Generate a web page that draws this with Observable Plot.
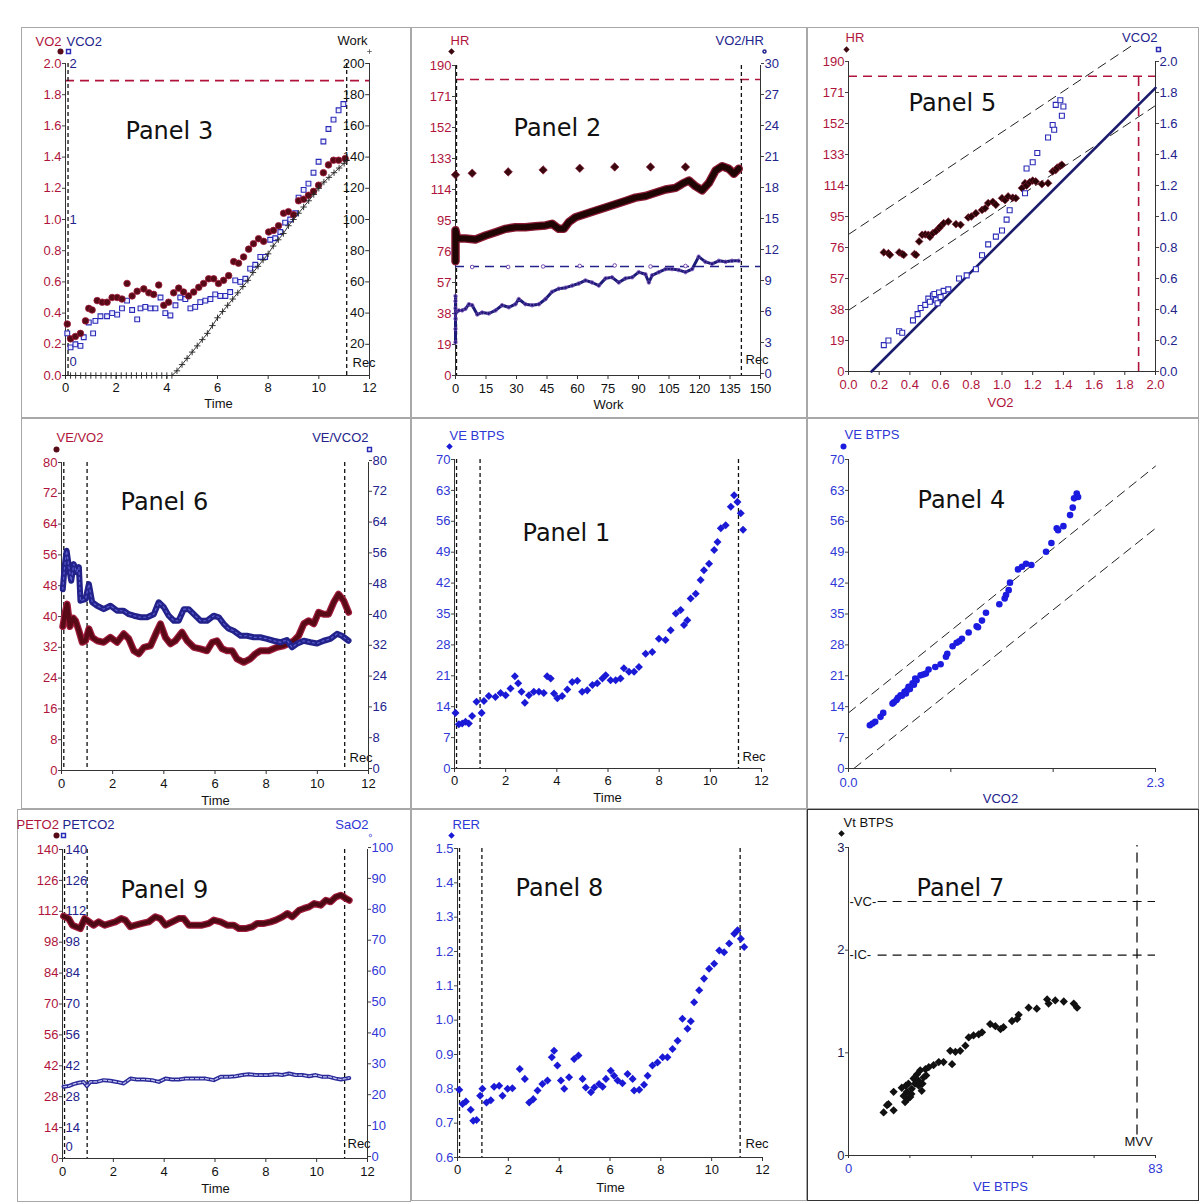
<!DOCTYPE html>
<html><head><meta charset="utf-8">
<script src="https://cdn.jsdelivr.net/npm/d3@7"></script>
<script src="https://cdn.jsdelivr.net/npm/@observablehq/plot@0.6"></script>
<style>
body{margin:0;background:#fff;}
#c{position:relative;width:1200px;height:1203px;overflow:hidden;background:#fff;}
.box{position:absolute;border:1px solid #a8a8a8;box-sizing:border-box;}
</style></head><body><div id="c"></div>
<script>
// ---------- Panel 3: VO2 / VCO2 / Work vs Time ----------
const p3VO2t=[0.07,0.2,0.39,0.59,0.79,0.92,1.05,1.25,1.45,1.64,1.84,2.04,2.23,2.43,2.63,2.83,3.09,3.29,3.48,3.68,3.88,4.07,4.27,4.47,4.66,4.86,5.06,5.26,5.45,5.65,5.85,6.04,6.24,6.44,6.64,6.83,7.03,7.23,7.42,7.62,7.82,8.02,8.21,8.41,8.61,8.80,9.0,9.2,9.4,9.59,9.79,9.99,10.18,10.38,10.58,10.78,11.04];
const p3VO2=[0.33,0.235,0.25,0.27,0.35,0.43,0.42,0.48,0.47,0.47,0.50,0.50,0.49,0.59,0.51,0.54,0.555,0.53,0.52,0.58,0.45,0.47,0.53,0.56,0.535,0.51,0.535,0.565,0.59,0.62,0.62,0.59,0.61,0.64,0.73,0.72,0.76,0.81,0.845,0.877,0.86,0.92,0.93,0.96,1.04,1.05,1.03,1.12,1.13,1.155,1.18,1.22,1.30,1.35,1.38,1.38,1.39];
const p3VCO2t=[0.07,0.2,0.39,0.59,0.72,0.92,1.09,1.18,1.38,1.64,1.84,2.04,2.23,2.43,2.63,2.83,2.96,3.15,3.35,3.55,3.75,3.94,4.14,4.34,4.53,4.73,4.93,5.12,5.32,5.52,5.72,5.91,6.11,6.31,6.50,6.70,6.90,7.10,7.29,7.49,7.69,7.88,8.08,8.28,8.48,8.67,8.87,9.07,9.20,9.40,9.59,9.79,9.99,10.18,10.38,10.58,10.78,10.97];
const p3VCO2=[0.27,0.18,0.2,0.19,0.245,0.34,0.27,0.35,0.38,0.38,0.40,0.39,0.43,0.48,0.42,0.36,0.43,0.44,0.43,0.43,0.50,0.40,0.385,0.45,0.50,0.49,0.43,0.44,0.47,0.48,0.49,0.52,0.51,0.51,0.535,0.61,0.60,0.62,0.685,0.71,0.76,0.76,0.87,0.88,0.92,0.98,1.0,1.04,1.14,1.19,1.23,1.30,1.37,1.50,1.58,1.64,1.70,1.74];
const p3WorkT=[0,0.2,0.4,0.6,0.8,1.0,1.2,1.4,1.6,1.8,2.0,2.2,2.4,2.6,2.8,3.0,3.2,3.4,3.6,3.8,4.0,4.2,4.4,4.6,4.8,5.0,5.2,5.4,5.6,5.8,6.0,6.2,6.4,6.6,6.8,7.0,7.2,7.4,7.6,7.8,8.0,8.2,8.4,8.6,8.8,9.0,9.2,9.4,9.6,9.8,10.0,10.2,10.4,10.6,10.8,11.0,11.1];
const p3Work=[0,0,0,0,0,0,0,0,0,0,0,0,0,0,0,0,0,0,0,0,0,0,3,7,11,15,19,23,27,32,37,41,45,49,53,57,61,66,70,74,78,83,87,91,96,100,104,108,112,116,120,124,127,130,133,136,138];
const p3VO2peak=[1.89], p3Markers=[0.1,11.1];

// ---------- Panel 2: HR and VO2/HR vs Work ----------
const p2HRw=[0,0,0,0,0,0,0,0.8,4.9,9.8,14.8,19.7,24.6,29.5,34.4,39.3,44.3,47.5,50.8,53.3,55.7,59,63.9,68.8,73.8,78.7,83.6,88.5,93.4,98.3,103.3,108.2,111.5,114.8,118,121.3,124.6,127.9,131.1,134.4,136.9,139.3];
const p2HR=[70,73,76,79,82,86,89,84,84,83.4,85.8,87.8,89.9,90.9,90.9,91.5,92,93,89.9,89.9,94,97,99,101,103,105,107,109,110,112,114,115,117.5,119.5,116,113.5,118,125.6,128.3,126.7,123.6,126.7];
const p2Dw=[0,8.2,25.9,43.1,61.1,78.3,95.9,113.1];
const p2Dhr=[123,124,124.8,126,127,127.8,127.8,127.8];
const p2Ow=[0,0,0,0,0,0,0,1.6,3.3,4.9,6.6,8.2,10.7,13.1,16.4,19.7,22.9,26.2,29.5,31.1,34.4,37.7,41,44.3,47.5,50.8,54.1,57.4,60.6,63.9,67.2,70.5,73.8,77,80.3,83.6,86.9,90.1,93.4,95.1,96.7,100,103.3,106.5,109.8,113.1,116.4,119.6,122.9,126.2,129.5,132.8,136,139.3];
const p2O=[3.2,4.5,5.5,6.5,7.2,7.7,6.0,6.3,6.3,6.45,6.9,6.8,5.9,6.1,6.0,6.3,6.8,6.6,6.9,7.4,6.9,6.8,6.9,7.4,8.1,8.4,8.5,8.7,8.9,9.2,9.0,8.7,9.4,9.5,9.0,9.4,9.5,10,9.8,9.0,9.7,10,10.3,10.3,10.2,10,10.3,11.5,11,10.8,11.1,11,11.1,11.1];
const p2Cw=[8.2,25.9,43.1,61.1,78.3,95.9,113.1];
const p2C=[10.5,10.5,10.55,10.6,10.65,10.55,10.6];
const p2HRmax=[181.4], p2O2max=[10.55], p2Markers=[0.5,140.6];

// ---------- Panel 5: HR and VCO2 vs VO2 ----------
const p5HRx=[0.23,0.26,0.27,0.33,0.35,0.36,0.43,0.44,0.46,0.48,0.50,0.52,0.53,0.55,0.57,0.59,0.6,0.62,0.65,0.70,0.73,0.78,0.80,0.83,0.87,0.89,0.91,0.94,0.96,1.0,1.02,1.04,1.07,1.09,1.13,1.15,1.16,1.18,1.2,1.22,1.26,1.30,1.33,1.35,1.36,1.38,1.39];
const p5HR=[73,72.5,71.5,73,72,71.5,72,71.5,79.7,83.8,84,83.8,82.5,84.8,86,87.8,89,90.9,91.9,90.3,89.9,94.4,95,97,99,100,103.2,104,102.2,106.2,105,107.3,106.5,106.2,112.4,115.4,114,116,117,116.5,114.8,115.4,122.6,123.5,125,126,126.7];
const p5CO2x=[0.23,0.26,0.33,0.35,0.42,0.45,0.47,0.5,0.52,0.53,0.55,0.56,0.57,0.58,0.59,0.6,0.62,0.65,0.72,0.77,0.83,0.87,0.91,0.96,1.0,1.03,1.05,1.15,1.16,1.20,1.23,1.30,1.33,1.34,1.35,1.38,1.39,1.40];
const p5CO2=[0.17,0.20,0.26,0.25,0.33,0.37,0.41,0.43,0.47,0.45,0.49,0.5,0.46,0.44,0.51,0.48,0.52,0.53,0.60,0.62,0.66,0.75,0.82,0.87,0.91,0.98,1.04,1.15,1.31,1.35,1.41,1.51,1.59,1.56,1.72,1.75,1.65,1.71];
const p5UpperX=[0,1.85], p5UpperY=[84,200];
const p5LowerX=[0,2.0], p5LowerY=[37.5,163];
const p5SolidX=[0.15,2.0], p5SolidY=[0,1.83];
const p5HRmax=[181], p5VO2max=[1.89];

// ---------- Panel 6: VE/VO2 and VE/VCO2 vs Time ----------
const p6t1=[0.05,0.16,0.22,0.33,0.46,0.55,0.68,0.81,0.94,1.07,1.2,1.39,1.65,1.91,2.17,2.43,2.63,2.83,3.02,3.22,3.48,3.74,3.87,4.06,4.26,4.45,4.71,4.91,5.17,5.43,5.69,5.89,6.08,6.28,6.47,6.67,6.86,7.12,7.38,7.58,7.77,8.1,8.42,8.68,8.88,9.08,9.27,9.47,9.66,9.86,10.05,10.25,10.44,10.64,10.83,11.03,11.22];
const p6EqO2=[37.4,41.5,43.2,37.4,39.6,38.9,36.3,33.3,33.7,36.8,34.6,33.7,33.3,34.6,33.3,35.5,34.2,31.1,30.3,32.0,32.4,36.3,38.1,34.6,32.9,33.7,35.9,33.7,32.0,31.6,31.1,33.3,33.7,31.6,31.1,31.1,29.0,28.1,29.0,30.3,31.1,31.1,32.0,32.4,33.0,33.7,35.0,38.1,38.9,38.1,41.1,40.6,40.6,43.7,45.8,44.1,41.1];
const p6t2=[0.05,0.12,0.2,0.29,0.38,0.48,0.59,0.68,0.74,0.94,1.07,1.2,1.39,1.65,1.91,2.17,2.43,2.63,2.83,3.09,3.35,3.61,3.8,4.0,4.19,4.39,4.58,4.78,4.97,5.17,5.43,5.69,5.95,6.15,6.34,6.54,6.73,7.0,7.25,7.51,7.77,8.03,8.29,8.55,8.81,9.01,9.2,9.47,9.73,9.99,10.25,10.51,10.77,10.96,11.22];
const p6EqCO2=[47.1,52.8,57.1,52.8,49.3,53.6,51.5,52.8,44.1,44.5,48.4,43.7,42.8,41.9,42.8,41.5,41.5,40.6,40.2,39.8,39.8,40.6,43.7,42.4,40.2,38.9,38.9,41.9,41.9,40.6,38.9,38.9,40.2,39.8,38.1,36.8,36.3,35.0,35.0,34.6,34.6,34.2,33.7,33.3,33.9,32.0,32.9,33.7,33.3,33.0,33.7,34.2,35.5,35.0,33.7];
const p6Markers=[0.09,1.0,11.07];

// ---------- Panel 1: VE vs Time ----------
const p1t=[0.04,0.17,0.3,0.43,0.56,0.69,0.86,1.06,1.15,1.34,1.6,1.8,2.0,2.19,2.36,2.49,2.62,2.75,2.91,3.1,3.3,3.49,3.62,3.76,3.89,4.02,4.21,4.41,4.6,4.8,4.99,5.19,5.39,5.58,5.78,5.91,6.1,6.3,6.49,6.62,6.82,7.02,7.21,7.47,7.73,7.99,8.25,8.45,8.65,8.84,8.97,9.1,9.23,9.43,9.62,9.75,9.95,10.15,10.28,10.41,10.6,10.8,10.93,11.06,11.19,11.28];
const p1VE=[12.6,10.0,10.2,10.6,10.2,11.9,15.1,12.6,15.3,16.4,16.2,17.1,16.6,18.1,20.9,19.3,17.4,14.9,16.6,17.4,17.4,17.1,20.9,20.4,17.0,15.9,16.4,17.9,19.6,19.9,17.4,17.7,18.9,19.3,20.4,21.1,20.0,20.0,20.4,22.7,21.9,21.9,23.0,26.0,26.4,29.4,29.1,31.3,35.1,35.9,32.5,33.6,38.5,39.6,42.7,44.9,46.4,49.5,51.3,54.4,55.1,59.3,61.9,60.4,57.8,54.1];
const p1Markers=[0.08,1.0,11.1];

// ---------- Panel 4: VE vs VCO2 ----------
const p4CO2=[0.16,0.18,0.2,0.24,0.26,0.33,0.34,0.36,0.37,0.39,0.4,0.42,0.43,0.44,0.45,0.46,0.48,0.49,0.5,0.51,0.54,0.56,0.58,0.6,0.65,0.69,0.73,0.74,0.78,0.81,0.83,0.85,0.9,0.96,0.97,1.0,1.03,1.13,1.17,1.18,1.2,1.21,1.27,1.3,1.33,1.37,1.48,1.52,1.56,1.57,1.61,1.66,1.68,1.69,1.71,1.72];
const p4VE=[9.8,10.2,10.6,11.7,12.6,14.7,15.0,15.5,16.0,16.6,16.5,17.4,17.0,17.8,18.5,18.0,19.3,19.0,20.4,20.0,21.1,21.3,21.5,22.4,23.0,23.6,25.3,26.0,27.7,28.5,28.8,29.4,30.8,32.2,32.0,33.5,35.3,37.2,38.5,39.3,40.4,42.1,45.1,45.7,46.4,46.1,49.1,51.1,54.4,54.0,54.9,57.4,59.1,61.2,62.3,61.5];
const p4UpperX=[0,2.3], p4UpperY=[12.6,68.5];
const p4LowerX=[0.04,2.3], p4LowerY=[0,54.4];

// ---------- Panel 9: PETO2, PETCO2 (SaO2 axis) vs Time ----------
const p9t1=[0.04,0.24,0.39,0.53,0.7,0.87,1.05,1.22,1.42,1.66,1.88,2.08,2.31,2.47,2.67,2.87,3.13,3.39,3.65,3.85,4.05,4.31,4.57,4.77,4.97,5.23,5.49,5.76,5.95,6.22,6.48,6.74,6.94,7.2,7.47,7.66,7.93,8.19,8.39,8.65,8.85,9.04,9.31,9.5,9.7,9.9,10.16,10.36,10.55,10.75,10.95,11.15,11.28];
const p9PETO2=[109.8,108.7,105.7,105,104.2,108.7,107.2,105.7,107.2,105.7,106.5,107.2,108.7,108,105,105.7,106.5,107.2,109.5,108.7,105.7,107.2,108.7,108.7,105.7,105.7,105.7,106.5,108,107.2,105.7,105.7,104.2,104.2,105,106.5,106.5,107.2,108,109.5,111,109.5,112.5,113.3,114,115.5,114.8,117,116.3,118.5,119.3,117.8,117];
const p9t2=[0.04,0.24,0.43,0.63,0.83,0.96,1.09,1.35,1.62,1.88,2.14,2.41,2.67,2.93,3.2,3.52,3.79,4.05,4.31,4.58,4.84,5.1,5.36,5.63,5.95,6.22,6.55,6.81,7.07,7.33,7.6,7.86,8.12,8.39,8.65,8.91,9.17,9.44,9.7,9.96,10.23,10.49,10.75,10.95,11.15,11.28];
const p9PETCO2=[32.5,32.8,33.7,34.3,34.7,32.8,34.7,34.7,35.5,35.2,34.7,34.0,36.2,35.8,35.8,35.5,34.7,36.2,35.8,35.8,36.2,36.2,36.2,36.2,35.5,37.0,37.0,37.3,37.8,38.2,37.8,37.8,37.8,38.2,37.8,38.5,37.8,37.8,37.3,37.8,37.0,37.0,36.2,35.8,36.2,36.5];
const p9Markers=[0.08,0.97,11.1];

// ---------- Panel 8: RER vs Time ----------
const p8t=[0.07,0.2,0.33,0.52,0.62,0.75,0.89,0.98,1.14,1.31,1.44,1.64,1.77,1.97,2.16,2.45,2.65,2.82,2.98,3.15,3.34,3.54,3.71,3.8,3.93,4.07,4.2,4.39,4.59,4.76,4.92,5.05,5.25,5.38,5.57,5.71,5.84,6.03,6.16,6.3,6.49,6.69,6.89,6.95,7.15,7.34,7.48,7.67,7.87,8.07,8.26,8.46,8.66,8.85,9.05,9.18,9.31,9.51,9.7,9.9,10.1,10.3,10.49,10.69,10.89,11.02,11.15,11.28];
const p8RER=[0.797,0.756,0.763,0.739,0.707,0.709,0.78,0.80,0.76,0.767,0.806,0.809,0.78,0.80,0.802,0.858,0.829,0.76,0.77,0.795,0.814,0.824,0.892,0.911,0.868,0.824,0.80,0.834,0.887,0.897,0.829,0.804,0.79,0.804,0.814,0.806,0.829,0.853,0.838,0.824,0.816,0.843,0.829,0.795,0.797,0.812,0.838,0.868,0.877,0.892,0.892,0.916,0.94,1.004,0.975,0.997,1.052,1.087,1.121,1.15,1.164,1.203,1.198,1.223,1.252,1.262,1.237,1.213];
const p8Markers=[0.08,0.96,11.12];

// ---------- Panel 7: Vt vs VE ----------
const p7VE=[9.5,10.4,10.8,12.2,12.2,14.4,14.9,15.3,15.5,15.8,16.0,16.2,16.7,17.0,17.1,17.6,18.0,18.5,18.9,19.0,19.4,19.8,20.0,20.3,20.8,21.0,21.7,23.0,24.4,25.7,27.5,28.0,28.9,30.2,31.6,32.5,33.8,35.2,36.1,38.3,39.7,41.1,41.9,44.2,45.6,46.0,48.7,50.9,53.7,54.1,55.9,58.2,60.9,61.8];
const p7Vt=[0.42,0.49,0.50,0.44,0.62,0.66,0.58,0.52,0.68,0.62,0.55,0.70,0.57,0.60,0.65,0.75,0.70,0.79,0.73,0.68,0.83,0.63,0.70,0.76,0.84,0.78,0.86,0.88,0.91,0.91,1.02,0.89,1.01,1.02,1.07,1.15,1.17,1.18,1.20,1.28,1.26,1.23,1.25,1.31,1.33,1.37,1.44,1.43,1.52,1.48,1.51,1.50,1.48,1.44];
const p7VC=[2.474], p7IC=[1.952], p7MVV=[78];

// ---------- shared styling ----------
const RED="#b0143c", NAVY="#23238c", BLUE="#2f37d6", INK="#111";
const C=document.getElementById("c");
const M=70;
const rows=(xs,ys)=>xs.map((x,i)=>({x,y:ys[i]}));

[[21,27,390,391],[411,27,396,391],[807,27,392,391],[21,418,390,391],[411,418,396,391],[807,418,392,391],[17,809,394,393],[411,809,396,392],[807,809,392,392]]
  .forEach(([l,t,w,h],i)=>{const d=document.createElement("div");d.className="box";
    Object.assign(d.style,{left:l+"px",top:t+"px",width:w+"px",height:h+"px"}); if(i===8) d.style.borderColor="#333"; C.append(d);});

function mount(rect,xd,yd,marks){
  const [l,t,r,b]=rect;
  const svg=Plot.plot({
    width:r-l+2*M,height:b-t+2*M,marginLeft:M,marginRight:M,marginTop:M,marginBottom:M,
    x:{domain:xd,axis:null},y:{domain:yd,axis:null},
    style:{background:"transparent",overflow:"visible",fontFamily:"'Liberation Sans',Arial,sans-serif",fontSize:"13px",maxWidth:"none"},
    marks
  });
  Object.assign(svg.style,{position:"absolute",left:(l-M)+"px",top:(t-M)+"px"});
  C.append(svg);
}
function L(rect,text,ax,ay,o={}){
  return Plot.text([text],{frameAnchor:"top-left",lineAnchor:"middle",dx:ax-rect[0],dy:ay-rect[1],text:d=>d,textAnchor:"start",fontSize:13,fill:INK,...o});
}
function MK(rect,ax,ay,o){
  return Plot.dot([0],{frameAnchor:"top-left",dx:ax-rect[0],dy:ay-rect[1],...o});
}
function title(rect,text,ax,ay){return L(rect,text,ax,ay,{fontFamily:"'DejaVu Sans',sans-serif",fontSize:24,fill:"#111"});}
const dash=(o={})=>({stroke:INK,strokeDasharray:"4,3",strokeWidth:1.3,...o});
const redDash={stroke:RED,strokeDasharray:"9,6",strokeWidth:1.6};
const frame=(x0,y0)=>[Plot.ruleX([x0],{stroke:"#333"}),Plot.ruleY([y0],{stroke:"#333"})];
const xAxis=(ticks,fmt=d=>d,o={})=>Plot.axisX({ticks,tickFormat:fmt,tickSize:4,tickPadding:3,fill:INK,stroke:"#333",label:null,...o});
const yAxis=(ticks,fmt,color,anchor="left")=>Plot.axisY({anchor,ticks,tickFormat:fmt,tickSize:3,tickPadding:1,fill:color,stroke:"#444",label:null});
const yAxisR=(ticks,fmt,color)=>Plot.axisY({anchor:"right",ticks,tickFormat:fmt,tickSize:3,tickPadding:1,dy:-2,fill:color,stroke:"#444",label:null});

// ---------- Panel 3 ----------
const R3=[65,63,369,375];
mount(R3,[0,12],[0,2],[
  Plot.ruleY(p3VO2peak,redDash),
  Plot.ruleX(p3Markers,dash()),
  ...frame(0,0),
  xAxis(d3.range(0,13,2)),
  yAxis(d3.range(0,2.01,0.2),d=>d.toFixed(1),RED),
  Plot.text([2,1],{x:()=>0,y:d=>d,text:d=>String(d),dx:4,textAnchor:"start",fill:NAVY}),
  Plot.text([0],{x:()=>0,y:d=>d,text:d=>String(d),dx:4,dy:-14,textAnchor:"start",fill:NAVY}),
  Plot.dot(rows(p3VCO2t,p3VCO2),{x:"x",y:"y",symbol:"square",r:2.7,stroke:"#2a2ab8",fill:"#eef",strokeWidth:1.1}),
  Plot.dot(rows(p3VO2t,p3VO2),{x:"x",y:"y",r:3.3,fill:"#560b16",stroke:"#a31a3e",strokeWidth:0.8}),
  L(R3,"VO2",35,41,{fill:RED}), L(R3,"VCO2",66,41,{fill:NAVY}), L(R3,"Work",337,40,{fill:INK}),
  MK(R3,60,51,{r:3,fill:"#560b16"}), MK(R3,68,51,{symbol:"square",r:2.2,stroke:"#2a2ab8",fill:"white"}),
  L(R3,"Time",218,403,{textAnchor:"middle"}),
  L(R3,"Rec",352,362),
  title(R3,"Panel 3",125,131)
]);
mount(R3,[0,12],[0,200],[
  Plot.ruleX([12],{stroke:"#333"}),
  Plot.ruleY(d3.range(0,201,20),{x1:11.85,x2:12,stroke:"#333"}),
  Plot.text(d3.range(20,201,20),{x:()=>12,y:d=>d,text:d=>String(d),dx:-5,textAnchor:"end",fill:INK}),
  Plot.line(rows(p3WorkT,p3Work),{x:"x",y:"y",stroke:"#333",strokeWidth:1}),
  Plot.dot(rows(p3WorkT,p3Work),{x:"x",y:"y",symbol:"plus",r:2.2,stroke:"#222",strokeWidth:0.9}),
  MK(R3,369,51,{symbol:"plus",r:1.6,stroke:"#555",strokeWidth:0.8})
]);

// ---------- Panel 2 ----------
const R2=[455,65,760,375];
mount(R2,[0,150],[0,190],[
  Plot.ruleY(p2HRmax,redDash),
  Plot.ruleX(p2Markers,dash()),
  ...frame(0,0),
  xAxis(d3.range(0,151,15),d=>d,{tickPadding:4}),
  yAxis(d3.range(0,191,19),d=>String(d),RED),
  Plot.line(rows(p2HRw,p2HR),{x:"x",y:"y",stroke:"#8c1a34",strokeWidth:8.5}),
  Plot.line(rows(p2HRw,p2HR),{x:"x",y:"y",stroke:"#200505",strokeWidth:6}),
  Plot.dot(rows(p2Dw,p2Dhr),{x:"x",y:"y",symbol:"square",rotate:45,r:3.4,fill:"#3c0810",stroke:"#8c1a34",strokeWidth:0.6}),
  L(R2,"HR",450,40,{fill:RED}),
  MK(R2,451,51,{symbol:"square",rotate:45,r:2.6,fill:"#3c0810"}),
  L(R2,"Work",608,404,{textAnchor:"middle"}),
  L(R2,"Rec",745,359),
  title(R2,"Panel 2",513,128)
]);
mount(R2,[0,150],[0,30],[
  Plot.ruleX([150],{stroke:"#333"}),
  yAxisR(d3.range(0,30.1,3),d=>String(d),NAVY),
  Plot.ruleY(p2O2max,{stroke:NAVY,strokeDasharray:"9,6",strokeWidth:1.4}),
  Plot.dot(rows(p2Cw,p2C),{x:"x",y:"y",r:1.8,stroke:"#6a3aa8",fill:"white",strokeWidth:0.9}),
  Plot.line(rows(p2Ow,p2O),{x:"x",y:"y",stroke:"#1c1c78",strokeWidth:3}),
  Plot.dot(rows(p2Ow,p2O),{x:"x",y:"y",r:1.8,stroke:"#7a4ab8",fill:"none",strokeWidth:0.8}),
  L(R2,"VO2/HR",715,40,{fill:NAVY}),
  MK(R2,764,51,{r:1.5,stroke:NAVY,fill:"white"})
]);

// ---------- Panel 5 ----------
const R5=[848,61,1155,371];
mount(R5,[0,2],[0,190],[
  Plot.ruleY(p5HRmax,redDash),
  Plot.ruleX(p5VO2max,{...redDash,y1:0,y2:181}),
  Plot.line(rows(p5UpperX,p5UpperY),{x:"x",y:"y",stroke:"#222",strokeDasharray:"9,6",strokeWidth:1}),
  Plot.line(rows(p5LowerX,p5LowerY),{x:"x",y:"y",stroke:"#222",strokeDasharray:"9,6",strokeWidth:1}),
  ...frame(0,0),
  xAxis(d3.range(0,2.01,0.2),d=>d.toFixed(1),{fill:RED,tickPadding:4}),
  yAxis(d3.range(0,191,19),d=>String(d),RED),
  Plot.dot(rows(p5HRx,p5HR),{x:"x",y:"y",symbol:"square",rotate:45,r:3.1,fill:"#2a0508",stroke:"#8c1a34",strokeWidth:0.6}),
  L(R5,"HR",845,37,{fill:RED}),
  MK(R5,846,49,{symbol:"square",rotate:45,r:2.5,fill:"#3c0810"}),
  L(R5,"VO2",1000,402,{textAnchor:"middle",fill:RED}),
  title(R5,"Panel 5",908,103)
]);
mount(R5,[0,2],[0,2],[
  Plot.ruleX([2],{stroke:"#333"}),
  yAxis(d3.range(0,2.01,0.2),d=>d.toFixed(1),NAVY,"right"),
  Plot.line(rows(p5SolidX,p5SolidY),{x:"x",y:"y",stroke:"#1c1c6e",strokeWidth:2.6}),
  Plot.dot(rows(p5CO2x,p5CO2),{x:"x",y:"y",symbol:"square",r:2.8,stroke:"#2a2ab8",fill:"white",strokeWidth:1.1}),
  L(R5,"VCO2",1157,37,{fill:NAVY,textAnchor:"end"}),
  MK(R5,1158,49,{symbol:"square",r:2.2,stroke:"#2a2ab8",fill:"white"})
]);

// ---------- Panel 6 ----------
const R6=[61,462,368,770];
mount(R6,[0,12],[0,80],[
  Plot.ruleX(p6Markers,dash()),
  ...frame(0,0),
  xAxis(d3.range(0,13,2),d=>d,{tickPadding:4}),
  yAxis(d3.range(0,81,8),d=>String(d),RED),
  Plot.line(rows(p6t1,p6EqO2),{x:"x",y:"y",stroke:"#a01c3c",strokeWidth:7}),
  Plot.line(rows(p6t1,p6EqO2),{x:"x",y:"y",stroke:"#5a0a16",strokeWidth:4.5}),
  L(R6,"VE/VO2",56,437,{fill:RED}),
  MK(R6,56,449,{r:3,fill:"#560b16"}),
  L(R6,"Time",215,800,{textAnchor:"middle"}),
  L(R6,"Rec",349,757),
  title(R6,"Panel 6",120,502)
]);
mount(R6,[0,12],[0,80],[
  Plot.ruleX([12],{stroke:"#333"}),
  yAxisR(d3.range(0,81,8),d=>String(d),NAVY),
  Plot.line(rows(p6t2,p6EqCO2),{x:"x",y:"y",stroke:"#22228a",strokeWidth:6}),
  Plot.line(rows(p6t2,p6EqCO2),{x:"x",y:"y",stroke:"#5c5cd0",strokeWidth:1.2,strokeDasharray:"2,3"}),
  L(R6,"VE/VCO2",368,437,{fill:NAVY,textAnchor:"end"}),
  MK(R6,369,449,{symbol:"square",r:2.2,stroke:"#2a2ab8",fill:"white"})
]);

// ---------- Panel 1 ----------
const R1=[454,459,761,768];
mount(R1,[0,12],[0,70],[
  Plot.ruleX(p1Markers,dash()),
  ...frame(0,0),
  xAxis(d3.range(0,13,2)),
  yAxis(d3.range(0,71,7),d=>String(d),BLUE),
  Plot.dot(rows(p1t,p1VE),{x:"x",y:"y",symbol:"square",rotate:45,r:3.2,fill:"#1a1ad6"}),
  L(R1,"VE BTPS",449,435,{fill:BLUE}),
  MK(R1,449,446,{symbol:"square",rotate:45,r:2.6,fill:"#1a1ad6"}),
  L(R1,"Time",607,797,{textAnchor:"middle"}),
  L(R1,"Rec",742,756),
  title(R1,"Panel 1",522,533)
]);

// ---------- Panel 4 ----------
const R4=[848,459,1155,768];
mount(R4,[0,2.3],[0,70],[
  Plot.line(rows(p4UpperX,p4UpperY),{x:"x",y:"y",stroke:"#222",strokeDasharray:"9,6",strokeWidth:1}),
  Plot.line(rows(p4LowerX,p4LowerY),{x:"x",y:"y",stroke:"#222",strokeDasharray:"9,6",strokeWidth:1}),
  ...frame(0,0),
  xAxis([0,2.3/3,4.6/3,2.3],d=>d===0?"0.0":(d>2.2?"2.3":""),{fill:BLUE,tickPadding:5}),
  yAxis(d3.range(0,71,7),d=>String(d),BLUE),
  Plot.dot(rows(p4CO2,p4VE),{x:"x",y:"y",r:3.3,fill:"#1c1ce0"}),
  L(R4,"VE BTPS",844,434,{fill:BLUE}),
  MK(R4,843,446,{r:3,fill:"#1c1ce0"}),
  L(R4,"VCO2",1000,798,{textAnchor:"middle",fill:NAVY}),
  title(R4,"Panel 4",917,500)
]);

// ---------- Panel 9 ----------
const R9=[62,849,367,1158];
mount(R9,[0,12],[0,140],[
  Plot.ruleX(p9Markers,dash()),
  ...frame(0,0),
  xAxis(d3.range(0,13,2),d=>d,{tickPadding:4}),
  yAxis(d3.range(0,141,14),d=>String(d),RED),
  Plot.text(d3.range(14,141,14),{x:()=>0,y:d=>d,text:d=>String(d),dx:3,textAnchor:"start",fill:NAVY}),
  Plot.text([0],{x:()=>0,y:d=>d,text:d=>String(d),dx:3,dy:-12,textAnchor:"start",fill:NAVY}),
  Plot.line(rows(p9t1,p9PETO2),{x:"x",y:"y",stroke:"#a01c3c",strokeWidth:7}),
  Plot.line(rows(p9t1,p9PETO2),{x:"x",y:"y",stroke:"#4e0a14",strokeWidth:4.5}),
  Plot.line(rows(p9t2,p9PETCO2),{x:"x",y:"y",stroke:"#2a2a9a",strokeWidth:4}),
  Plot.line(rows(p9t2,p9PETCO2),{x:"x",y:"y",stroke:"#c8c8f0",strokeWidth:1.2,strokeDasharray:"3,2"}),
  L(R9,"PETO2",16,824,{fill:RED}), L(R9,"PETCO2",62,824,{fill:NAVY}),
  MK(R9,56,835,{r:3,fill:"#560b16"}), MK(R9,63,835,{symbol:"square",r:2.2,stroke:"#2a2ab8",fill:"white"}),
  L(R9,"Time",215,1188,{textAnchor:"middle"}),
  L(R9,"Rec",347,1143),
  title(R9,"Panel 9",120,890)
]);
mount(R9,[0,12],[0,100],[
  Plot.ruleX([12],{stroke:"#333"}),
  yAxisR(d3.range(0,101,10),d=>String(d),BLUE),
  L(R9,"SaO2",368,824,{fill:BLUE,textAnchor:"end"}),
  MK(R9,370,835,{r:1.2,stroke:BLUE,fill:"white",strokeWidth:0.7})
]);

// ---------- Panel 8 ----------
const R8=[457,848,762,1157];
mount(R8,[0,12],[0.6,1.5],[
  Plot.ruleX(p8Markers,dash()),
  ...frame(0,0.6),
  xAxis(d3.range(0,13,2)),
  yAxis(d3.range(0.6,1.51,0.1),d=>d.toFixed(1),BLUE),
  Plot.dot(rows(p8t,p8RER),{x:"x",y:"y",symbol:"square",rotate:45,r:3.2,fill:"#1a1ad6"}),
  L(R8,"RER",452,824,{fill:BLUE}),
  MK(R8,451,835,{symbol:"square",rotate:45,r:2.6,fill:"#1a1ad6"}),
  L(R8,"Time",610,1187,{textAnchor:"middle"}),
  L(R8,"Rec",745,1143),
  title(R8,"Panel 8",515,888)
]);

// ---------- Panel 7 ----------
const R7=[848,847,1155,1155];
mount(R7,[0,83],[0,3],[
  Plot.ruleY(p7VC,{x1:8,x2:83,stroke:INK,strokeDasharray:"9,6",strokeWidth:1.2}),
  Plot.ruleY(p7IC,{x1:8,x2:83,stroke:INK,strokeDasharray:"9,6",strokeWidth:1.2}),
  Plot.ruleX(p7MVV,{y1:0.2,y2:3.02,stroke:INK,strokeDasharray:"10,6",strokeWidth:1.3}),
  ...frame(0,0),
  xAxis([0,16.6,33.2,49.8,66.4,83],d=>(d===0||d===83)?String(d):"",{fill:BLUE,tickSize:3,tickPadding:5}),
  yAxis([0,1,2,3],d=>String(d),"#1a1a50"),
  Plot.text(p7VC,{x:()=>0,y:d=>d,text:()=>"-VC-",dx:1,textAnchor:"start",fill:INK}),
  Plot.text(p7IC,{x:()=>0,y:d=>d,text:()=>"-IC-",dx:1,textAnchor:"start",fill:INK}),
  Plot.dot(rows(p7VE,p7Vt),{x:"x",y:"y",symbol:"square",rotate:45,r:3.3,fill:"#111"}),
  L(R7,"Vt BTPS",843,822,{fill:INK}),
  MK(R7,841,833,{symbol:"square",rotate:45,r:2.6,fill:"#111"}),
  L(R7,"VE BTPS",1000,1186,{textAnchor:"middle",fill:BLUE}),
  L(R7,"MVV",1138,1141,{textAnchor:"middle"}),
  title(R7,"Panel 7",916,888)
]);
</script></body></html>
